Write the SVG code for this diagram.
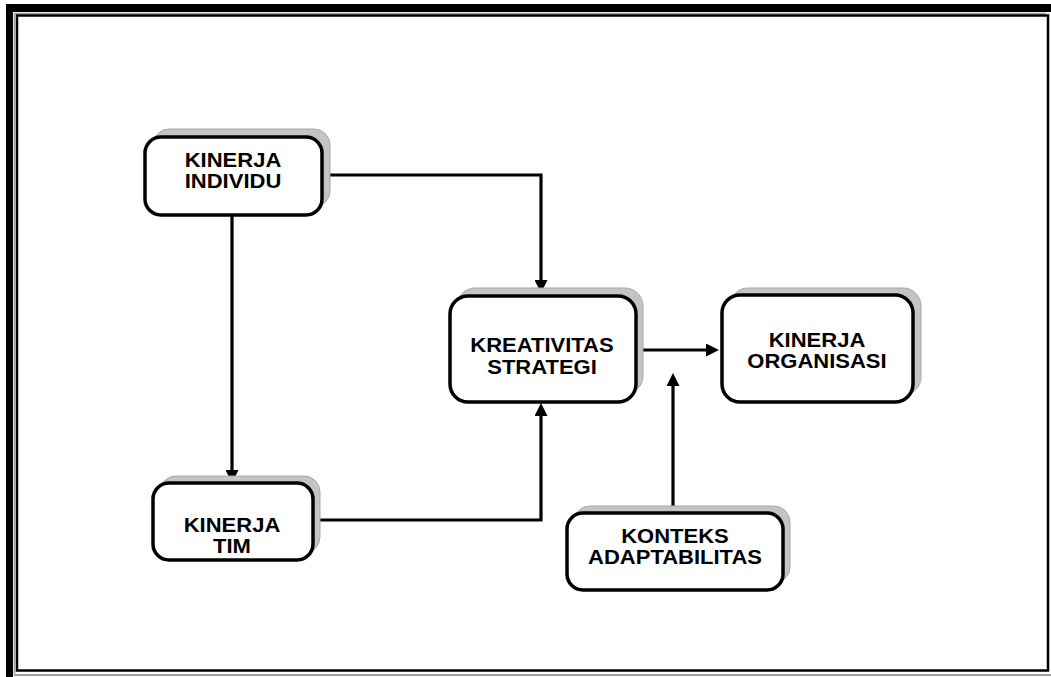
<svg xmlns="http://www.w3.org/2000/svg" width="1051" height="677" viewBox="0 0 1051 677">
<style>
.box{fill:#ffffff;stroke:#000000;stroke-width:3.5}
.shadow{fill:#c4c4c4;stroke:#a8a8a8;stroke-width:1}
.lbl{font-family:"Liberation Sans",Arial,sans-serif;font-weight:bold;font-size:20px;fill:#000000;text-anchor:middle}
.conn{fill:none;stroke:#000000;stroke-width:3.2;marker-end:url(#arr)}
</style>
<defs>
<marker id="arr" markerUnits="userSpaceOnUse" markerWidth="14" markerHeight="13" refX="4" refY="6.5" orient="auto">
<path d="M0,0 L13,6.5 L0,13 z" fill="#000000"/>
</marker>
</defs>
<rect x="0" y="0" width="1051" height="677" fill="#ffffff"/>
<g id="border">
<rect x="6" y="4" width="7" height="673" fill="#000000"/>
<rect x="6" y="4" width="1045" height="8" fill="#000000"/>
<line x1="14.5" y1="13.5" x2="14.5" y2="675" stroke="#a0a0a0" stroke-width="1.5"/>
<line x1="14" y1="13.5" x2="1046" y2="13.5" stroke="#a0a0a0" stroke-width="1.5"/>
<line x1="14" y1="675" x2="1051" y2="675" stroke="#a0a0a0" stroke-width="2"/>
<rect x="17" y="15.5" width="1031" height="655" fill="none" stroke="#000000" stroke-width="2.5"/>
</g>
<g id="connectors">
<path class="conn" d="M322,175 H541 V284"/>
<path class="conn" d="M232,215 V474"/>
<path class="conn" d="M313,520 H541 V412"/>
<path class="conn" d="M636,350 H710"/>
<path class="conn" d="M673,513 V382"/>
</g>
<g id="kinerja-individu">
<rect class="shadow" x="153" y="129" width="177" height="78" rx="16"/>
<rect class="box" x="145" y="137" width="177" height="78" rx="16"/>
<text class="lbl" transform="translate(233,167) scale(1.1,1)">KINERJA</text>
<text class="lbl" transform="translate(233,188) scale(1.1,1)">INDIVIDU</text>
</g>
<g id="kreativitas-strategi">
<rect class="shadow" x="457" y="288" width="186" height="106" rx="18"/>
<rect class="box" x="450" y="296" width="186" height="106" rx="18"/>
<text class="lbl" transform="translate(542,352) scale(1.1,1)">KREATIVITAS</text>
<text class="lbl" transform="translate(542,374) scale(1.1,1)">STRATEGI</text>
</g>
<g id="kinerja-organisasi">
<rect class="shadow" x="730" y="288" width="191" height="107" rx="18"/>
<rect class="box" x="722" y="295" width="191" height="107" rx="18"/>
<text class="lbl" transform="translate(817,347) scale(1.1,1)">KINERJA</text>
<text class="lbl" transform="translate(817,368) scale(1.1,1)">ORGANISASI</text>
</g>
<g id="kinerja-tim">
<rect class="shadow" x="160" y="476" width="160" height="77" rx="16"/>
<rect class="box" x="153" y="483" width="160" height="77" rx="16"/>
<text class="lbl" transform="translate(232,532) scale(1.1,1)">KINERJA</text>
<text class="lbl" transform="translate(232,553) scale(1.1,1)">TIM</text>
</g>
<g id="konteks-adaptabilitas">
<rect class="shadow" x="574" y="506" width="216" height="77" rx="16"/>
<rect class="box" x="567" y="513" width="216" height="77" rx="16"/>
<text class="lbl" transform="translate(675,543) scale(1.1,1)">KONTEKS</text>
<text class="lbl" transform="translate(675,564) scale(1.1,1)">ADAPTABILITAS</text>
</g>
</svg>
